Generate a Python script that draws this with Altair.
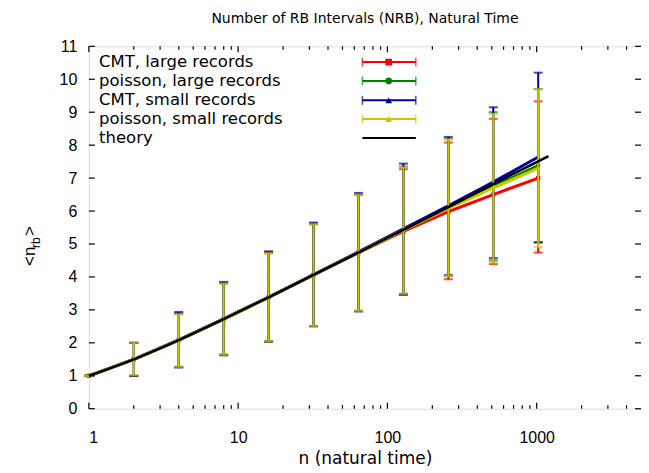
import altair as alt
import pandas as pd

# ---------------- data ----------------
n_vals = [1, 2, 4, 8, 16, 32, 64, 128, 256, 512, 1024]

series_names = ["CMT, large records", "poisson, large records",
                "CMT, small records", "poisson, small records"]
series_colors = ["#ff0000", "#008000", "#0000a0", "#c8c800"]
series_shapes = ["square", "circle", "triangle-up", "triangle-up"]

mean_cmt_large = [1, 1.5, 2.08, 2.72, 3.38, 4.06, 4.74, 5.38, 5.98, 6.5, 7.0]
low_cmt_large = [1, 1.0, 1.27, 1.64, 2.04, 2.51, 2.97, 3.45, 3.93, 4.39, 4.74]
high_cmt_large = [1, 2.0, 2.9, 3.82, 4.77, 5.62, 6.5, 7.27, 8.08, 8.8, 9.33]

mean_poi_large = [1, 1.5, 2.08, 2.72, 3.38, 4.06, 4.74, 5.42, 6.1, 6.75, 7.38]
low_poi_large = [1, 1.0, 1.27, 1.64, 2.04, 2.51, 2.97, 3.49, 4.04, 4.5, 5.05]
high_poi_large = [1, 2.0, 2.88, 3.8, 4.72, 5.6, 6.5, 7.35, 8.2, 9.0, 9.7]

mean_cmt_small = [1, 1.5, 2.09, 2.73, 3.39, 4.07, 4.76, 5.46, 6.16, 6.88, 7.64]
low_cmt_small = [1, 1.0, 1.25, 1.62, 2.03, 2.5, 2.95, 3.47, 4.05, 4.57, 5.05]
high_cmt_small = [1, 2.0, 2.94, 3.85, 4.77, 5.65, 6.55, 7.44, 8.25, 9.15, 10.2]

mean_poi_small = [1, 1.5, 2.08, 2.72, 3.38, 4.06, 4.74, 5.42, 6.08, 6.7, 7.3]
low_poi_small = [1, 1.02, 1.27, 1.64, 2.04, 2.51, 2.97, 3.49, 4.03, 4.43, 4.9]
high_poi_small = [1, 2.0, 2.87, 3.8, 4.72, 5.6, 6.5, 7.33, 8.18, 8.95, 9.7]

theory_n = [1, 2, 4, 8, 16, 32, 64, 128, 256, 512, 1024, 1200]
theory_vals = [1, 1.5, 2.08, 2.72, 3.38, 4.06, 4.74, 5.43, 6.12, 6.82, 7.51, 7.67]

x_major = [1, 10, 100, 1000]
x_minor = [2, 3, 4, 5, 6, 7, 8, 9, 20, 30, 40, 50, 60, 70, 80, 90,
           200, 300, 400, 500, 600, 700, 800, 900, 2000, 3000, 4000]
y_major = [0, 1, 2, 3, 4, 5, 6, 7, 8, 9, 10, 11]

legend_rows = [10.52, 9.95, 9.36, 8.79, 8.22]

title_text = "Number of RB Intervals (NRB), Natural Time"
x_title = "n (natural time)"

# ---------------- layout ----------------
W, H = 553, 363
FONT = "Liberation Sans"
WFONT = "DejaVu Sans"

xscale = alt.Scale(type="log", domain=[1, 5000], nice=False)
yscale = alt.Scale(domain=[0, 11], nice=False, zero=False)
xaxis = alt.Axis(values=x_major, format="d", ticks=False, domain=False, grid=False,
                 labelFontSize=16, labelFont=FONT, labelColor="black", labelPadding=21,
                 title=x_title, titleFont=WFONT, titleFontSize=17, titleFontWeight="normal",
                 titleColor="black", titlePadding=5)
yaxis = alt.Axis(values=y_major, ticks=False, domain=False, grid=False,
                 labelFontSize=16, labelFont=FONT, labelColor="black", labelPadding=12,
                 title=None)


def X(field):
    return alt.X(field, type="quantitative", scale=xscale, axis=xaxis)


def Y(field):
    return alt.Y(field, type="quantitative", scale=yscale, axis=yaxis)


series_data = [
    (mean_cmt_large, low_cmt_large, high_cmt_large),
    (mean_poi_large, low_poi_large, high_poi_large),
    (mean_cmt_small, low_cmt_small, high_cmt_small),
    (mean_poi_small, low_poi_small, high_poi_small),
]

layers = []
for (mean, low, high), col, shp in zip(series_data, series_colors, series_shapes):
    df = pd.DataFrame({"n": n_vals, "m": mean, "lo": low, "hi": high})
    base = alt.Chart(df)
    layers.append(base.mark_rule(color=col, strokeWidth=2).encode(
        x=X("n"), y=Y("lo"), y2="hi"))
    layers.append(base.mark_tick(color=col, orient="horizontal", size=9, thickness=2).encode(
        x=X("n"), y=Y("lo")))
    layers.append(base.mark_tick(color=col, orient="horizontal", size=9, thickness=2).encode(
        x=X("n"), y=Y("hi")))
    layers.append(base.mark_line(color=col, strokeWidth=3).encode(x=X("n"), y=Y("m")))
    layers.append(base.mark_point(color=col, shape=shp, filled=True, size=18, opacity=1).encode(
        x=X("n"), y=Y("m")))

df_th = pd.DataFrame({"n": theory_n, "m": theory_vals})
layers.append(alt.Chart(df_th).mark_line(color="black", strokeWidth=2.5, interpolate="monotone").encode(
    x=X("n"), y=Y("m")))

# ---------------- inward ticks (gnuplot style, mirrored) ----------------
df_xmaj = pd.DataFrame({"n": x_major})
df_xmin = pd.DataFrame({"n": x_minor})
df_ymaj = pd.DataFrame({"v": y_major})
for dfx, ln in ((df_xmaj, 6), (df_xmin, 3.5)):
    layers.append(alt.Chart(dfx).mark_rule(color="black", strokeWidth=1.2).encode(
        x=X("n"), y=alt.value(H), y2=alt.value(H - ln)))
    layers.append(alt.Chart(dfx).mark_rule(color="black", strokeWidth=1.2).encode(
        x=X("n"), y=alt.value(0), y2=alt.value(ln)))
layers.append(alt.Chart(df_ymaj).mark_rule(color="black", strokeWidth=1.2).encode(
    y=Y("v"), x=alt.value(0), x2=alt.value(6)))
layers.append(alt.Chart(df_ymaj).mark_rule(color="black", strokeWidth=1.2).encode(
    y=Y("v"), x=alt.value(W), x2=alt.value(W - 6)))

# ---------------- legend (gnuplot style, inside top-left) ----------------
leg_labels = series_names + ["theory"]
leg_colors = series_colors + ["black"]
df_leg = pd.DataFrame({"label": leg_labels, "color": leg_colors, "y": legend_rows,
                       "tx": [1.17] * 5, "x1": [68] * 5, "x2": [155] * 5, "xm": [102] * 5})
layers.append(alt.Chart(df_leg).mark_text(align="left", baseline="middle", font=WFONT,
                                          fontSize=16.5, color="black").encode(
    x=X("tx"), y=Y("y"), text="label:N"))
for i, (col, shp) in enumerate(zip(series_colors, series_shapes)):
    d = df_leg.iloc[[i]]
    layers.append(alt.Chart(d).mark_rule(color=col, strokeWidth=2).encode(
        x=X("x1"), x2="x2", y=Y("y")))
    layers.append(alt.Chart(d).mark_tick(color=col, orient="vertical", size=9, thickness=1.5).encode(
        x=X("x1"), y=Y("y")))
    layers.append(alt.Chart(d).mark_tick(color=col, orient="vertical", size=9, thickness=1.5).encode(
        x=X("x2"), y=Y("y")))
    layers.append(alt.Chart(d).mark_point(color=col, shape=shp, filled=True, size=45, opacity=1).encode(
        x=X("xm"), y=Y("y")))
layers.append(alt.Chart(df_leg.iloc[[4]]).mark_rule(color="black", strokeWidth=2).encode(
    x=X("x1"), x2="x2", y=Y("y")))

# ---------------- y title "<n_rb>" with subscript ----------------
ytitle_parts = ["<n", "rb", ">"]
layers.append(alt.Chart(pd.DataFrame({"t": [ytitle_parts[0]]})).mark_text(
    angle=270, align="left", baseline="alphabetic", font=FONT, fontSize=17, color="black").encode(
    x=alt.value(-54), y=alt.value(220), text="t:N"))
layers.append(alt.Chart(pd.DataFrame({"t": [ytitle_parts[1]]})).mark_text(
    angle=270, align="left", baseline="alphabetic", font=FONT, fontSize=12, color="black").encode(
    x=alt.value(-49), y=alt.value(202), text="t:N"))
layers.append(alt.Chart(pd.DataFrame({"t": [ytitle_parts[2]]})).mark_text(
    angle=270, align="left", baseline="alphabetic", font=FONT, fontSize=17, color="black").encode(
    x=alt.value(-54), y=alt.value(190), text="t:N"))

chart = alt.layer(*layers).properties(
    width=W, height=H,
    title=alt.TitleParams(title_text, font=WFONT, fontSize=14, fontWeight="normal",
                          color="black", anchor="middle", offset=12),
    autosize=alt.AutoSizeParams(type="none"),
    padding={"left": 81, "top": 38, "right": 0, "bottom": 64},
).configure_view(stroke="black", strokeWidth=1.5).configure(background="white")

chart.save("out.html", embed_options={"renderer": "svg", "actions": False})
